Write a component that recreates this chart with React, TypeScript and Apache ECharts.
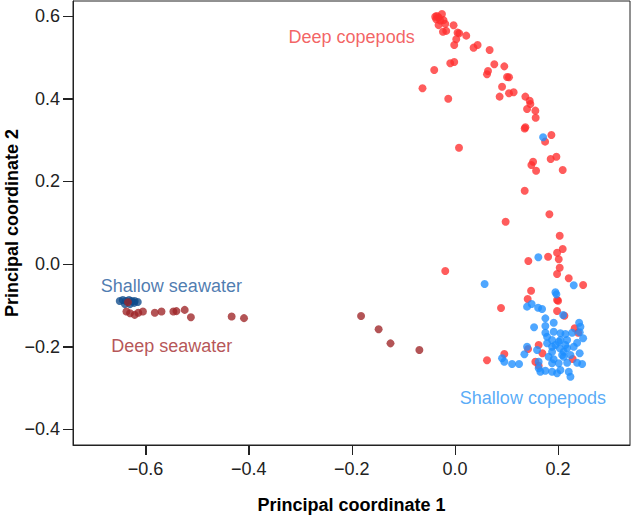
import React, { useEffect, useRef } from "react";
import * as echarts from "echarts";

// Axis ranges and tick values
const xRange = [-0.7406, 0.3394];
const yRange = [-0.4379, 0.6363];
const xTicks = [-0.6, -0.4, -0.2, 0.0, 0.2];
const yTicks = [-0.4, -0.2, 0.0, 0.2, 0.4, 0.6];

// Deep copepods (red)
const deepCopepods: number[][] = [
  [-0.0383, 0.5984], [-0.035, 0.6], [-0.0318, 0.597], [-0.0252, 0.605], [-0.0363, 0.592],
  [-0.0285, 0.589], [-0.0221, 0.59], [-0.0188, 0.581], [-0.0318, 0.578], [-0.0233, 0.562],
  [-0.0169, 0.564], [-0.0027, 0.5775], [0.005, 0.5597], [0.0083, 0.558], [0.0025, 0.5437],
  [0.0219, 0.5525], [-0.0014, 0.53], [0.0361, 0.5234], [0.0439, 0.53], [0.0672, 0.5178],
  [-0.0402, 0.4694], [-0.0091, 0.4856], [-0.0014, 0.4888], [0.0763, 0.4831], [0.0957, 0.4782],
  [0.0621, 0.459], [0.0641, 0.467], [0.101, 0.4525], [0.1048, 0.4517], [0.0913, 0.429],
  [0.0866, 0.405], [0.1048, 0.413], [0.1138, 0.4154], [-0.0629, 0.4251], [-0.013, 0.4],
  [0.1365, 0.405], [0.1449, 0.395], [0.1462, 0.387], [0.1398, 0.375], [0.1559, 0.371],
  [0.1565, 0.354], [0.1352, 0.328], [0.1365, 0.331], [0.187, 0.312], [0.1748, 0.296],
  [0.0078, 0.2814], [0.1856, 0.254], [0.1967, 0.2596], [0.1515, 0.2475], [0.1482, 0.2395],
  [0.1573, 0.2258], [0.2089, 0.2274], [0.1352, 0.1774],
  [0.1831, 0.1202], [0.0983, 0.1024], [0.2031, 0.0685], [0.2089, 0.0363], [0.198, 0.0274],
  [0.1806, 0.0177], [0.2012, 0.0114], [0.1423, 0.0073], [0.2031, -0.0089], [0.198, -0.0242],
  [0.2206, -0.0346], [0.2485, -0.0508], [-0.0188, -0.0169], [0.1476, -0.0646], [0.141, -0.0847],
  [0.198, -0.0871], [0.2, -0.0888], [0.0893, -0.1065], [0.198, -0.1137], [0.2122, -0.1251],
  [0.2322, -0.1556], [0.2388, -0.1662], [0.1623, -0.196], [0.1417, -0.2057], [0.1695, -0.2161],
  [0.0957, -0.2178], [0.2283, -0.2299], [0.0621, -0.233], [0.1559, -0.2364], [0.1623, -0.246],
];

// Shallow copepods (light blue)
const shallowCopepods: number[][] = [
  [0.1709, 0.3066], [0.1617, 0.0162], [0.0575, -0.0484], [0.2303, -0.0515], [0.1948, -0.0685],
  [0.1967, -0.0734], [0.1487, -0.0968], [0.1398, -0.1032], [0.1612, -0.1057], [0.1689, -0.1089],
  [0.1753, -0.1315], [0.2097, -0.1234], [0.1534, -0.1532], [0.1753, -0.15], [0.1915, -0.142],
  [0.2408, -0.142], [0.2433, -0.1517], [0.1753, -0.1662], [0.1786, -0.1759], [0.1915, -0.1638],
  [0.2045, -0.1677], [0.2142, -0.1694], [0.2272, -0.1662], [0.2419, -0.1653], [0.2485, -0.1798],
  [0.1883, -0.1839], [0.2012, -0.188], [0.2175, -0.1839], [0.2369, -0.1904], [0.1398, -0.2001],
  [0.1592, -0.2081], [0.1883, -0.2001], [0.2031, -0.204], [0.2175, -0.204], [0.2303, -0.2001],
  [0.1346, -0.2185], [0.0913, -0.2282], [0.0957, -0.2364], [0.1107, -0.242], [0.1243, -0.242],
  [0.1623, -0.2364], [0.1817, -0.2243], [0.1915, -0.2306], [0.2109, -0.2243], [0.2239, -0.2202],
  [0.2419, -0.2161], [0.1883, -0.2403], [0.2012, -0.2403], [0.2175, -0.2388], [0.2369, -0.2388],
  [0.2466, -0.242], [0.1623, -0.2524], [0.1753, -0.2582], [0.1883, -0.2606], [0.2045, -0.2565],
  [0.2206, -0.2606], [0.1883, -0.2122], [0.2109, -0.2122], [0.1656, -0.2606], [0.198, -0.2645],
  [0.2239, -0.2727], [0.2045, -0.1839], [0.1948, -0.196], [0.2142, -0.196], [0.2078, -0.2202],
  [0.1786, -0.1919],
];

// Shallow seawater (dark blue)
const shallowSeawater: number[][] = [
  [-0.65, -0.0895], [-0.644, -0.0871], [-0.638, -0.0895], [-0.632, -0.0871], [-0.627, -0.0895],
  [-0.621, -0.0895], [-0.615, -0.092], [-0.64, -0.097], [-0.63, -0.097], [-0.622, -0.094],
];

// Deep seawater (brown)
const deepSeawater: number[][] = [
  [-0.634, -0.0927], [-0.637, -0.115], [-0.63, -0.119], [-0.621, -0.123], [-0.614, -0.118],
  [-0.605, -0.115], [-0.582, -0.118], [-0.569, -0.115], [-0.546, -0.115], [-0.54, -0.114],
  [-0.524, -0.111], [-0.512, -0.129], [-0.433, -0.127], [-0.409, -0.131],
  [-0.182, -0.126], [-0.148, -0.158], [-0.125, -0.192], [-0.069, -0.208],
];

// Group labels (anchor in data coordinates)
const groupLabels = [
  { name: "Deep copepods", value: [-0.2004, 0.5492], color: "#F03C3C" },
  { name: "Shallow seawater", value: [-0.5499, -0.0544], color: "#1E5A9C" },
  { name: "Deep seawater", value: [-0.549, -0.1972], color: "#A3292B" },
  { name: "Shallow copepods", value: [0.1511, -0.3242], color: "#2E96F5" },
];

const FONT = "'Liberation Sans', Arial, Helvetica, sans-serif";

const fmt = (v: number) => {
  const s = Math.abs(v).toFixed(1);
  return v < -1e-9 ? "\u2212" + s : s;
};

export default function App() {
  const ref = useRef<HTMLDivElement>(null);
  useEffect(() => {
    document.body.style.margin = "0";
    const chart = echarts.init(ref.current!, undefined, { renderer: "svg" });
    const pointSeries = (data: number[][], color: string) => ({
      type: "scatter",
      data,
      symbol: "circle",
      symbolSize: 8,
      itemStyle: { color, opacity: 0.78 },
      silent: true,
    });
    const TICK = 10;
    chart.setOption({
      animation: false,
      grid: {
        left: 73,
        right: 1,
        top: 1,
        bottom: 71,
        containLabel: false,
        outerBoundsMode: "none",
        show: true,
        borderColor: "#222",
        borderWidth: 1,
        backgroundColor: "transparent",
      },
      xAxis: {
        type: "value",
        min: xRange[0],
        max: xRange[1],
        position: "bottom",
        name: "Principal coordinate 1",
        nameLocation: "middle",
        nameGap: 51,
        nameMoveOverlap: false,
        nameTextStyle: { fontSize: 18, fontWeight: "bold", color: "#000", fontFamily: FONT },
        axisLine: { show: true, onZero: false, lineStyle: { color: "#222", width: 1 } },
        splitLine: { show: false },
        axisTick: {
          show: true,
          length: TICK,
          customValues: xTicks,
          lineStyle: { color: "#222", width: 1 },
        },
        axisLabel: {
          customValues: xTicks,
          formatter: (v: number) => fmt(v),
          fontSize: 18,
          color: "#222",
          margin: 15,
          fontFamily: FONT,
        },
      },
      yAxis: {
        type: "value",
        min: yRange[0],
        max: yRange[1],
        position: "left",
        name: "Principal coordinate 2",
        nameLocation: "middle",
        nameGap: 52,
        nameMoveOverlap: false,
        nameTextStyle: { fontSize: 18, fontWeight: "bold", color: "#000", fontFamily: FONT },
        axisLine: { show: true, onZero: false, lineStyle: { color: "#222", width: 1 } },
        splitLine: { show: false },
        axisTick: {
          show: true,
          length: TICK,
          customValues: yTicks,
          lineStyle: { color: "#222", width: 1 },
        },
        axisLabel: {
          customValues: yTicks,
          formatter: (v: number) => fmt(v),
          fontSize: 18,
          color: "#222",
          margin: 13,
          fontFamily: FONT,
        },
      },
      series: [
        pointSeries(deepCopepods, "#FF2E2E"),
        pointSeries(shallowCopepods, "#1E8EFF"),
        pointSeries(shallowSeawater, "#0E4A8A"),
        pointSeries(deepSeawater, "#9E2426"),
        {
          type: "scatter",
          silent: true,
          symbolSize: 1,
          itemStyle: { color: "rgba(0,0,0,0)" },
          data: groupLabels.map((g) => ({
            name: g.name,
            value: g.value,
            label: {
              show: true,
              position: "inside",
              formatter: "{b}",
              color: g.color,
              fontSize: 18,
              fontFamily: FONT,
            },
          })),
        },
        // Outward tick marks on the bottom axis
        {
          type: "custom",
          silent: true,
          clip: false,
          data: xTicks.map((v) => [v, yRange[0]]),
          renderItem: (_p: any, api: any) => {
            const c = api.coord([api.value(0), api.value(1)]);
            const x = Math.round(c[0]) + 0.5;
            return {
              type: "line",
              shape: { x1: x, y1: c[1], x2: x, y2: c[1] + TICK },
              style: { stroke: "#222", lineWidth: 1 },
            };
          },
        },
        // Outward tick marks on the left axis
        {
          type: "custom",
          silent: true,
          clip: false,
          data: yTicks.map((v) => [xRange[0], v]),
          renderItem: (_p: any, api: any) => {
            const c = api.coord([api.value(0), api.value(1)]);
            const y = Math.round(c[1]) + 0.5;
            return {
              type: "line",
              shape: { x1: c[0] - TICK, y1: y, x2: c[0], y2: y },
              style: { stroke: "#222", lineWidth: 1 },
            };
          },
        },
      ],
    });
    return () => chart.dispose();
  }, []);
  return (
    <div
      ref={ref}
      style={{ position: "absolute", left: 0, top: 0, width: 631, height: 516 }}
    />
  );
}
